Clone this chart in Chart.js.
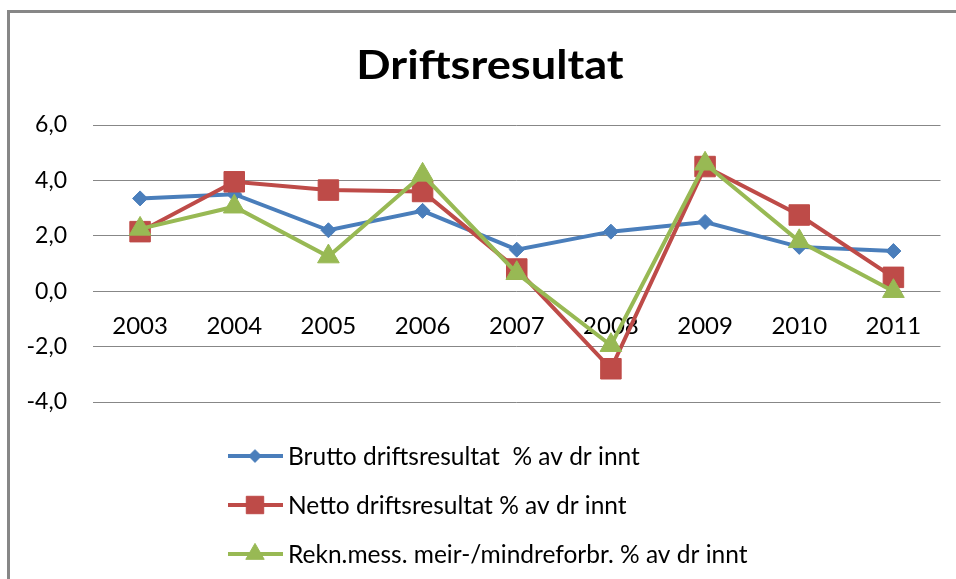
<!DOCTYPE html>
<html>
<head>
<meta charset="utf-8">
<script src="https://cdn.jsdelivr.net/npm/chart.js@4.4.1/dist/chart.umd.min.js"></script>
<style>
  body { margin: 0; background: #fff; }
  #chart { display: block; }
</style>
</head>
<body>
<canvas id="chart" width="956" height="579"></canvas>
<script>
// data
var years = ['2003', '2004', '2005', '2006', '2007', '2008', '2009', '2010', '2011'];
var brutto = [3.35, 3.5, 2.2, 2.9, 1.5, 2.15, 2.5, 1.6, 1.45];
var netto = [2.15, 3.95, 3.65, 3.6, 0.8, -2.8, 4.5, 2.75, 0.5];
var rekn = [2.25, 3.05, 1.25, 4.2, 0.65, -1.95, 4.6, 1.8, 0.0];
var seriesNames = [
    'Brutto driftsresultat  % av dr innt',
    'Netto driftsresultat % av dr innt',
    'Rekn.mess. meir-/mindreforbr. % av dr innt'
];
var chartTitle = 'Driftsresultat';

var FONT = 'Lato, "Open Sans", sans-serif';

// frame, title and the vertical legend, drawn like excel does it
var decor = {
    id: 'decor',
    beforeDraw: function (chart) {
        var ctx = chart.ctx;
        ctx.save();
        ctx.strokeStyle = '#878787';
        ctx.lineWidth = 3;
        ctx.strokeRect(8.5, 11.5, 1200, 1200);
        ctx.restore();
    },
    afterDraw: function (chart) {
        var ctx = chart.ctx;
        ctx.save();
        ctx.fillStyle = '#000';
        ctx.font = 'bold 40px ' + FONT;
        ctx.textAlign = 'center';
        ctx.textBaseline = 'alphabetic';
        ctx.translate(490, 79);
        ctx.scale(1.13, 1);
        ctx.fillText(chartTitle, 0, 0);
        ctx.restore();

        ctx.save();
        var rows = [456, 505, 554];
        ctx.font = '24.5px ' + FONT;
        ctx.textAlign = 'left';
        ctx.textBaseline = 'middle';
        chart.data.datasets.forEach(function (ds, i) {
            var y = rows[i];
            ctx.strokeStyle = ds.borderColor;
            ctx.lineWidth = 4;
            ctx.beginPath();
            ctx.moveTo(228, y);
            ctx.lineTo(283, y);
            ctx.stroke();
            ctx.fillStyle = ds.pointBackgroundColor;
            ctx.strokeStyle = ds.pointBorderColor;
            ctx.lineWidth = 1;
            Chart.helpers.drawPoint(ctx, {pointStyle: ds.pointStyle, radius: ds.pointRadius * 0.85, borderWidth: 1}, 255, y);
            ctx.fillStyle = '#000';
            ctx.fillText(ds.label, 288, y + 1);
        });
        ctx.restore();
    }
};

new Chart(document.getElementById('chart').getContext('2d'), {
    type: 'line',
    data: {
        labels: years,
        datasets: [{
            label: seriesNames[0],
            data: brutto,
            borderColor: '#4a7ebb',
            backgroundColor: '#4a7ebb',
            pointBackgroundColor: '#4a7ebb',
            pointBorderColor: '#4a7ebb',
            borderWidth: 4,
            pointStyle: 'rectRot',
            pointRadius: 7.5,
            pointBorderWidth: 1,
            order: 2
        }, {
            label: seriesNames[1],
            data: netto,
            borderColor: '#be4b48',
            backgroundColor: '#be4b48',
            pointBackgroundColor: '#be4b48',
            pointBorderColor: '#be4b48',
            borderWidth: 4,
            pointStyle: 'rect',
            pointRadius: 14.5,
            pointBorderWidth: 1,
            order: 1
        }, {
            label: seriesNames[2],
            data: rekn,
            borderColor: '#98b954',
            backgroundColor: '#98b954',
            pointBackgroundColor: '#98b954',
            pointBorderColor: '#98b954',
            borderWidth: 4,
            pointStyle: 'triangle',
            pointRadius: 12.5,
            pointBorderWidth: 1,
            order: 0
        }]
    },
    options: {
        responsive: false,
        animation: false,
        layout: {padding: {left: 0, right: 13, top: 125, bottom: 177}},
        plugins: {
            legend: {display: false},
            title: {display: false},
            tooltip: {enabled: false}
        },
        scales: {
            x: {
                type: 'category',
                position: {y: 0},
                offset: true,
                grid: {display: false, drawTicks: false},
                border: {display: false},
                ticks: {
                    color: '#000',
                    font: {family: FONT, size: 24},
                    padding: 21,
                    maxRotation: 0
                }
            },
            y: {
                min: -4,
                max: 6,
                grid: {color: '#878787', lineWidth: 1, drawTicks: false},
                border: {display: false},
                afterFit: function (scale) { scale.width = 93; },
                ticks: {
                    stepSize: 2,
                    color: '#000',
                    font: {family: FONT, size: 23},
                    padding: 26,
                    callback: function (v) { return v.toFixed(1).replace('.', ','); }
                }
            }
        }
    },
    plugins: [decor]
});
</script>
</body>
</html>
